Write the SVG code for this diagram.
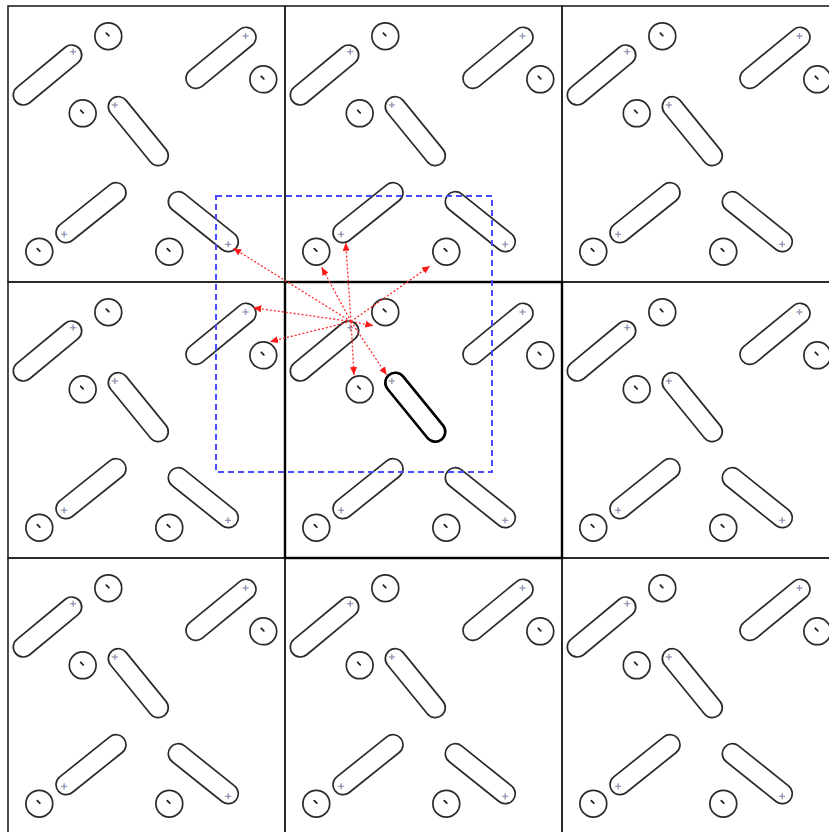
<svg xmlns="http://www.w3.org/2000/svg" xmlns:xlink="http://www.w3.org/1999/xlink" width="829" height="832" viewBox="0 0 829 832">
<style>
.cell{fill:none;stroke:#222;stroke-width:1.6}
.cell-hl{fill:none;stroke:#000;stroke-width:2.4}
.cap{fill:none;stroke:#2a2a2a;stroke-width:1.7}
.cap-hl{fill:none;stroke:#000;stroke-width:2.6}
.circ{fill:none;stroke:#2a2a2a;stroke-width:1.7}
.mark{stroke:#222;stroke-width:1.8;stroke-linecap:round}
.pb{stroke:#6f8fd0;stroke-width:0.9}
.po{stroke:#e0a060;stroke-width:0.9;opacity:0.8}
.arrow{fill:none;stroke:#ff2a2a;stroke-width:1.3;stroke-dasharray:2,2;marker-end:url(#ah)}
.win{fill:none;stroke:#4a4aff;stroke-width:2;stroke-dasharray:6,4}
</style>
<defs>
<marker id="ah" viewBox="0 0 8 7" refX="8" refY="3.5" markerWidth="8" markerHeight="7" markerUnits="userSpaceOnUse" orient="auto">
<path d="M0,0 L8,3.5 L0,7 z" fill="#ff1a1a"/>
</marker>
<g id="plus">
<path class="po" d="M-3.5,0 H2.5 M-0.5,-3 V3"/>
<path class="pb" d="M-3,0 H3 M0,-3 V3"/>
</g>
<g id="cell-content">
<rect class="cap" x="-41.4" y="-10" width="82.8" height="20" rx="10" transform="translate(39.5,69) rotate(-39.6)"/>
<rect class="cap" x="-42.35" y="-10" width="84.7" height="20" rx="10" transform="translate(213,51.8) rotate(-39.4)"/>
<rect class="cap" x="-41.6" y="-10" width="83.2" height="20" rx="10" transform="translate(130.3,125.2) rotate(50.8)"/>
<rect class="cap" x="-42" y="-10" width="84" height="20" rx="10" transform="translate(83,206.7) rotate(-38.7)"/>
<rect class="cap" x="-42" y="-10" width="84" height="20" rx="10" transform="translate(195.3,215.7) rotate(38.7)"/>
<circle class="circ" cx="100.3" cy="30.2" r="13.4"/>
<circle class="circ" cx="255.3" cy="73.3" r="13.4"/>
<circle class="circ" cx="74.7" cy="107.3" r="13.4"/>
<circle class="circ" cx="31.3" cy="245.7" r="13.4"/>
<circle class="circ" cx="161.3" cy="245.7" r="13.4"/>
<path class="mark" d="M98.3,27.2 L100.8,29.7"/>
<path class="mark" d="M253.3,70.3 L255.8,72.8"/>
<path class="mark" d="M72.7,104.3 L75.2,106.8"/>
<path class="mark" d="M29.3,242.7 L31.8,245.2"/>
<path class="mark" d="M159.3,242.7 L161.8,245.2"/>
<use xlink:href="#plus" href="#plus" x="65.3" y="45.7"/>
<use xlink:href="#plus" href="#plus" x="237.7" y="30"/>
<use xlink:href="#plus" href="#plus" x="107" y="99"/>
<use xlink:href="#plus" href="#plus" x="56.3" y="228.3"/>
<use xlink:href="#plus" href="#plus" x="220.3" y="238.3"/>
</g>
</defs>
<rect width="829" height="832" fill="#fff"/>
<g id="cell-0-0" transform="translate(8,6)"><rect class="cell" width="277" height="276"/><use href="#cell-content" xlink:href="#cell-content"/></g>
<g id="cell-0-1" transform="translate(285,6)"><rect class="cell" width="277" height="276"/><use href="#cell-content" xlink:href="#cell-content"/></g>
<g id="cell-0-2" transform="translate(562,6)"><rect class="cell" width="277" height="276"/><use href="#cell-content" xlink:href="#cell-content"/></g>
<g id="cell-1-0" transform="translate(8,282)"><rect class="cell" width="277" height="276"/><use href="#cell-content" xlink:href="#cell-content"/></g>
<g id="cell-1-2" transform="translate(562,282)"><rect class="cell" width="277" height="276"/><use href="#cell-content" xlink:href="#cell-content"/></g>
<g id="cell-2-0" transform="translate(8,558)"><rect class="cell" width="277" height="276"/><use href="#cell-content" xlink:href="#cell-content"/></g>
<g id="cell-2-1" transform="translate(285,558)"><rect class="cell" width="277" height="276"/><use href="#cell-content" xlink:href="#cell-content"/></g>
<g id="cell-2-2" transform="translate(562,558)"><rect class="cell" width="277" height="276"/><use href="#cell-content" xlink:href="#cell-content"/></g>
<g id="cell-1-1" transform="translate(285,282)"><rect class="cell-hl" width="277" height="276"/><use href="#cell-content" xlink:href="#cell-content"/>
<rect id="selected" class="cap-hl" x="-41.6" y="-10" width="83.2" height="20" rx="10" transform="translate(130.3,125.2) rotate(50.8)"/>
</g>
<g id="search-window"><rect class="win" x="216" y="196" width="276" height="276"/></g>
<g id="connectors">
<line class="arrow" x1="351" y1="321.5" x2="233.3" y2="248.3"/>
<line class="arrow" x1="351" y1="321.5" x2="321.7" y2="267.3"/>
<line class="arrow" x1="351" y1="321.5" x2="345.7" y2="242.7"/>
<line class="arrow" x1="351" y1="321.5" x2="430" y2="266"/>
<line class="arrow" x1="351" y1="321.5" x2="253.3" y2="307.7"/>
<line class="arrow" x1="351" y1="321.5" x2="270" y2="341.7"/>
<line class="arrow" x1="351" y1="321.5" x2="373.3" y2="325.7"/>
<line class="arrow" x1="351" y1="321.5" x2="354" y2="375"/>
<line class="arrow" x1="351" y1="321.5" x2="386.7" y2="375"/>
</g>
</svg>
